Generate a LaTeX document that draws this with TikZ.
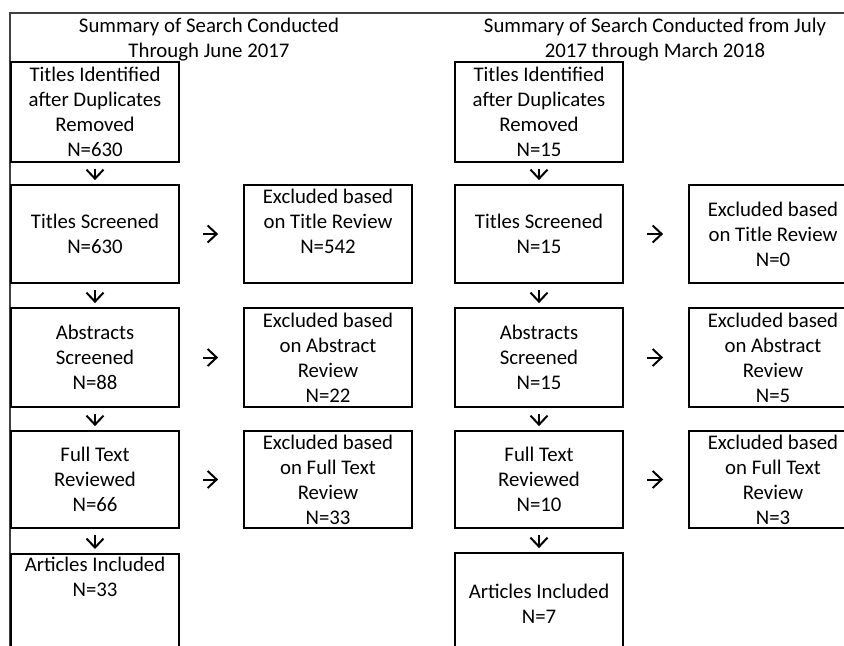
\documentclass[tikz,border=0pt]{standalone}
\usepackage{fontspec}
\setmainfont{Carlito}
\usetikzlibrary{arrows.meta}

\tikzset{
  box/.style={draw, line width=0.9pt, minimum width=84pt, inner sep=0pt, align=center},
  flow/.style={-{Straight Barb[length=4.5pt,width=8.5pt]}, line width=1pt},
  down/.style={flow, shorten <=3.25pt, shorten >=2pt},
  side/.style={flow, shorten <=11.5pt, shorten >=12.5pt},
  frame/.style={line width=1.1pt, black!75},
}

\begin{document}
\begin{tikzpicture}[x=0.5pt, y=-0.5pt, font=\fontsize{10.4}{12.5}\selectfont]
\useasboundingbox (0,0) rectangle (844,646);
\clip (0,0) rectangle (844,646);

% frame of the table
\draw[frame] (10,646) -- (10,13) -- (844,13);

% headings
\node[align=center] (headL) at (209,39.5) {Summary of Search Conducted\\Through June 2017};
\node[align=center] (headR) at (655,39.5) {Summary of Search Conducted from July\\2017 through March 2018};

% search through June 2017
\node[box, minimum height=50pt]   (l1) at (95,112)   {Titles Identified\\after Duplicates\\Removed\\N=630};
\node[box, minimum height=49pt]   (l2) at (95,234)   {Titles Screened\\N=630};
\node[box, minimum height=49.5pt] (l3) at (95,357.5) {Abstracts\\Screened\\N=88};
\node[box, minimum height=48.5pt] (l4) at (95,479.5) {Full Text\\Reviewed\\N=66};
\node[box, minimum height=70pt, anchor=north] (l5) at (95,553) {};
\node[align=center, anchor=north, inner sep=0pt] (l5t) at (95,557) {Articles Included\\N=33};

\node[box, minimum height=49pt]   (le2) at (328,234)   {Excluded based\\on Title Review\\N=542\\{}};
\node[box, minimum height=49.5pt] (le3) at (328,357.5) {Excluded based\\on Abstract\\Review\\N=22};
\node[box, minimum height=48.5pt] (le4) at (328,479.5) {Excluded based\\on Full Text\\Review\\N=33};

% search July 2017 through March 2018
\node[box, minimum height=50pt]   (r1) at (539,112)   {Titles Identified\\after Duplicates\\Removed\\N=15};
\node[box, minimum height=49pt]   (r2) at (539,234)   {Titles Screened\\N=15};
\node[box, minimum height=49.5pt] (r3) at (539,357.5) {Abstracts\\Screened\\N=15};
\node[box, minimum height=48.5pt] (r4) at (539,479.5) {Full Text\\Reviewed\\N=10};
\node[box, minimum height=51pt]   (r5) at (539,604)   {Articles Included\\N=7};

% these run past the right edge of the page
\node[box, minimum height=49pt]   (re2) at (773,234)   {Excluded based\\on Title Review\\N=0};
\node[box, minimum height=49.5pt] (re3) at (773,357.5) {Excluded based\\on Abstract\\Review\\N=5};
\node[box, minimum height=48.5pt] (re4) at (773,479.5) {Excluded based\\on Full Text\\Review\\N=3};

% arrows
\foreach \c in {l, r} {
  \draw[down] (\c1) -- (\c2);
  \draw[down] (\c2) -- (\c3);
  \draw[down] (\c3) -- (\c4);
  \draw[down] (\c4) -- (\c5);
  \foreach \i in {2, 3, 4}
    \draw[side] (\c\i) -- (\c e\i);
}

\end{tikzpicture}
\end{document}
